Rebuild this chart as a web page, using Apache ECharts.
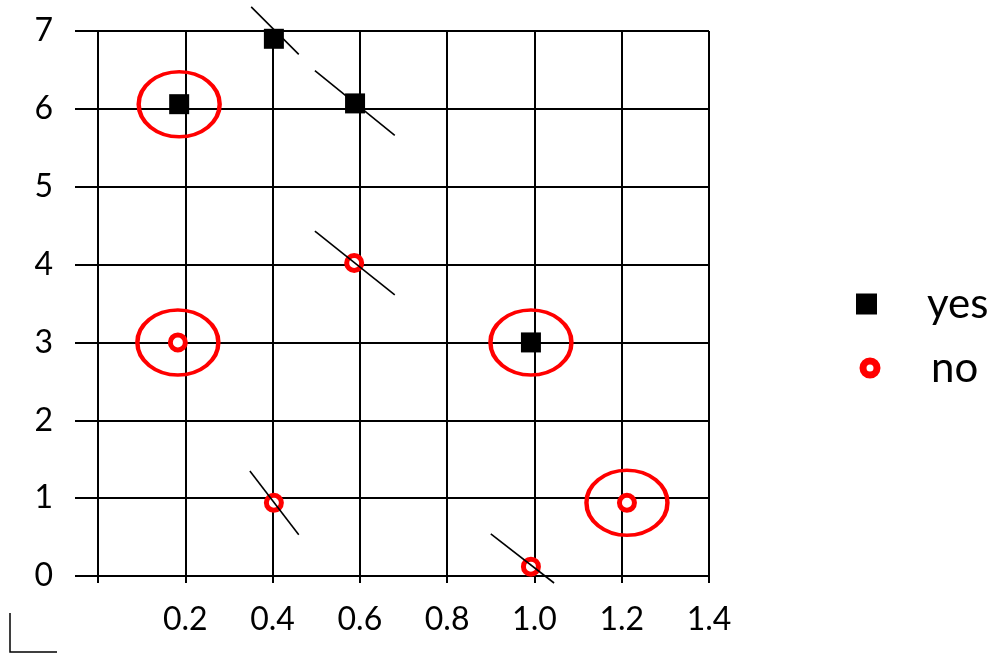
<!DOCTYPE html>
<html>
<head>
<meta charset="utf-8">
<script src="https://cdn.jsdelivr.net/npm/echarts@6/dist/echarts.min.js"></script>
<style>
  html, body { margin: 0; padding: 0; background: #fff; }
  #chart { width: 994px; height: 654px; }
</style>
</head>
<body>
<div id="chart"></div>
<script>
const xTickLabels = ['', '0.2', '0.4', '0.6', '0.8', '1.0', '1.2', '1.4'];
const yTickLabels = ['0', '1', '2', '3', '4', '5', '6', '7'];

const yesPoints = [[0.186, 6.06], [0.403, 6.9], [0.589, 6.07], [0.992, 3.0]];
const noPoints = [[0.183, 3.0], [0.587, 4.02], [0.403, 0.94], [0.992, 0.12], [1.212, 0.94]];
// points ringed in red
const circledPoints = [[0.186, 6.06], [0.183, 3.0], [0.992, 3.0], [1.212, 0.94]];
// short black strokes through some points
const slashLines = [
  [[0.351, 7.31], [0.460, 6.70]],
  [[0.497, 6.49], [0.680, 5.66]],
  [[0.497, 4.43], [0.680, 3.61]],
  [[0.348, 1.35], [0.460, 0.53]],
  [[0.900, 0.54], [1.045, -0.09]]
];

const font = 'Lato';
const chart = echarts.init(document.getElementById('chart'));

chart.setOption({
  backgroundColor: '#fff',
  animation: false,
  textStyle: { fontFamily: font, color: '#000' },
  grid: { left: 98, right: 285, top: 31, bottom: 78 },
  legend: [
    {
      data: [{ name: 'yes', icon: 'rect' }],
      orient: 'vertical',
      left: 856,
      top: 283,
      padding: 0,
      itemWidth: 21,
      itemHeight: 21,
      itemStyle: { borderWidth: 0, opacity: 1 },
      textStyle: { fontFamily: font, fontSize: 42, color: '#000', lineHeight: 40, padding: [0, 0, 0, 45] }
    },
    {
      data: [{ name: 'no', icon: 'circle' }],
      orient: 'vertical',
      left: 859.5,
      top: 347,
      padding: 0,
      itemWidth: 14,
      itemHeight: 14,
      itemStyle: { borderWidth: 7, color: '#fff', borderColor: '#ff0000', opacity: 1 },
      textStyle: { fontFamily: font, fontSize: 42, color: '#000', lineHeight: 40, padding: [0, 0, 0, 49] }
    }
  ],
  xAxis: {
    type: 'value',
    min: 0,
    max: 1.4,
    interval: 0.2,
    axisLine: { show: true, onZero: false, lineStyle: { color: '#000', width: 2 } },
    axisTick: { show: true, length: 7, lineStyle: { color: '#000', width: 2 } },
    splitLine: { show: true, lineStyle: { color: '#000', width: 2 } },
    axisLabel: {
      margin: 28,
      fontSize: 32,
      fontFamily: font,
      color: '#000',
      showMinLabel: true,
      showMaxLabel: true,
      formatter: (v) => xTickLabels[Math.round(v / 0.2)]
    }
  },
  yAxis: {
    type: 'value',
    min: 0,
    max: 7,
    interval: 1,
    axisLine: { show: true, onZero: false, lineStyle: { color: '#000', width: 2 } },
    axisTick: { show: true, length: 23, lineStyle: { color: '#000', width: 2 } },
    splitLine: { show: true, lineStyle: { color: '#000', width: 2 } },
    axisLabel: {
      margin: 45,
      fontSize: 32,
      fontFamily: font,
      color: '#000',
      padding: [0, 0, 10, 0],
      formatter: (v) => yTickLabels[Math.round(v)]
    }
  },
  series: [
    {
      name: 'yes',
      type: 'scatter',
      symbol: 'rect',
      symbolSize: 20,
      itemStyle: { color: '#000', opacity: 1 },
      data: yesPoints,
      z: 3
    },
    {
      name: 'no',
      type: 'scatter',
      symbol: 'circle',
      symbolSize: 15,
      itemStyle: { color: '#fff', borderColor: '#ff0000', borderWidth: 5, opacity: 1 },
      data: noPoints,
      z: 3
    },
    {
      name: 'circled',
      type: 'scatter',
      symbol: 'circle',
      symbolSize: [81, 65],
      silent: true,
      itemStyle: { color: 'transparent', borderColor: '#ff0000', borderWidth: 4, opacity: 1 },
      data: circledPoints,
      z: 4
    },
    {
      name: 'slash',
      type: 'lines',
      coordinateSystem: 'cartesian2d',
      clip: false,
      silent: true,
      lineStyle: { color: '#000', width: 1.6, opacity: 1 },
      data: slashLines.map((c) => ({ coords: c })),
      z: 5
    }
  ],
  graphic: [
    {
      type: 'polyline',
      shape: { points: [[10, 613], [10, 652], [57, 652]] },
      style: { stroke: '#000', lineWidth: 1.5, fill: null }
    }
  ]
});
</script>
</body>
</html>
